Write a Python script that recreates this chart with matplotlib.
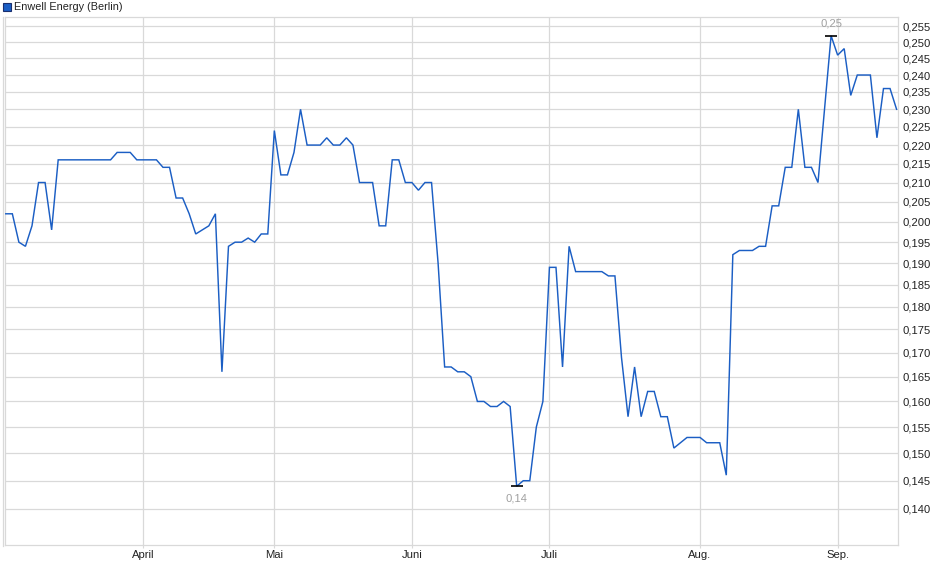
import numpy as np
import pandas as pd
import matplotlib
matplotlib.use("Agg")
import matplotlib.pyplot as plt
from matplotlib.patches import Rectangle
from matplotlib.lines import Line2D
from matplotlib.ticker import FixedLocator, FuncFormatter, NullLocator

plt.rcParams['font.family'] = ['Liberation Sans', 'DejaVu Sans']

# ---------------- data ----------------
title = "Enwell Energy (Berlin)"
start_date = "2025-03-03"
end_date = "2025-09-12"
holidays = ["2025-04-18", "2025-04-21", "2025-05-01"]

prices = [
    0.202, 0.202, 0.195, 0.194, 0.199, 0.210, 0.210, 0.198, 0.216, 0.216,
    0.216, 0.216, 0.216, 0.216, 0.216, 0.216, 0.216, 0.218, 0.218, 0.218,
    0.216, 0.216, 0.216, 0.216, 0.214, 0.214, 0.206, 0.206, 0.202, 0.197,
    0.198, 0.199, 0.202, 0.166, 0.194, 0.195, 0.195, 0.196, 0.195, 0.197,
    0.197, 0.224, 0.212, 0.212, 0.218, 0.230, 0.220, 0.220, 0.220, 0.222,
    0.220, 0.220, 0.222, 0.220, 0.210, 0.210, 0.210, 0.199, 0.199, 0.216,
    0.216, 0.210, 0.210, 0.208, 0.210, 0.210, 0.190, 0.167, 0.167, 0.166,
    0.166, 0.165, 0.160, 0.160, 0.159, 0.159, 0.160, 0.159, 0.144, 0.145,
    0.145, 0.155, 0.160, 0.189, 0.189, 0.167, 0.194, 0.188, 0.188, 0.188,
    0.188, 0.188, 0.187, 0.187, 0.169, 0.157, 0.167, 0.157, 0.162, 0.162,
    0.157, 0.157, 0.151, 0.152, 0.153, 0.153, 0.153, 0.152, 0.152, 0.152,
    0.146, 0.192, 0.193, 0.193, 0.193, 0.194, 0.194, 0.204, 0.204, 0.214,
    0.214, 0.230, 0.214, 0.214, 0.210, 0.230, 0.252, 0.246, 0.248, 0.234,
    0.240, 0.240, 0.240, 0.222, 0.236, 0.236, 0.230,
]

month_labels = ["April", "Mai", "Juni", "Juli", "Aug.", "Sep."]
y_ticks = [0.140, 0.145, 0.150, 0.155, 0.160, 0.165, 0.170, 0.175, 0.180,
           0.185, 0.190, 0.195, 0.200, 0.205, 0.210, 0.215, 0.220, 0.225,
           0.230, 0.235, 0.240, 0.245, 0.250, 0.255]

# ---------------- build ----------------
dates = pd.bdate_range(start_date, end_date)
dates = dates[~dates.isin(pd.to_datetime(holidays))]
n = min(len(dates), len(prices))
dates = dates[:n]
y = np.array(prices[:n])
x = np.arange(n)

months = dates.month
month_starts = [i for i in range(1, n) if months[i] != months[i - 1]]

W, H = 940, 579
fig = plt.figure(figsize=(W / 100, H / 100), dpi=100)
fig.patch.set_facecolor("white")

left_px, right_px, top_px, bot_px = 5, 898.3, 16.7, 545.3
ax = fig.add_axes([left_px / W, 1 - bot_px / H,
                   (right_px - left_px) / W, (bot_px - top_px) / H])

grid_c = "#d9d9d9"
line_c = "#1B5EC4"

ax.set_yscale("log")
ax.set_ylim(0.13382, 0.25803)
ax.set_xlim(-0.12, (right_px - left_px) / 6.55 - 0.12)

ax.yaxis.set_major_locator(FixedLocator(y_ticks))
ax.yaxis.set_minor_locator(NullLocator())
ax.yaxis.set_major_formatter(FuncFormatter(lambda v, p: f"{v:.3f}".replace(".", ",")))
ax.yaxis.tick_right()
ax.tick_params(axis="y", which="both", length=0, pad=3.2, labelsize=8.1, labelcolor="#222222")

ax.set_xticks(month_starts)
ax.set_xticklabels(month_labels[:len(month_starts)])
ax.tick_params(axis="x", length=2, width=0.8, color=grid_c, pad=1.5, labelsize=8.1, labelcolor="#222222")

ax.grid(True, which="major", color=grid_c, linewidth=0.9)
ax.set_axisbelow(True)
for s in ax.spines.values():
    s.set_color(grid_c)
    s.set_linewidth(0.9)

ax.plot(x, y, color=line_c, linewidth=1.05, solid_joinstyle="miter", zorder=3)

# min / max annotations
imin, imax = int(np.argmin(y)), int(np.argmax(y))
for idx, off in ((imin, -9), (imax, 9)):
    ax.plot([idx], [y[idx]], marker="_", markersize=9, markeredgewidth=1.2,
            color="black", zorder=4)
    ax.annotate(f"{y[idx]:.2f}".replace(".", ","), (idx, y[idx]),
                xytext=(0, off), textcoords="offset points",
                ha="center", va="center", fontsize=8.1, color="#a0a0a0", zorder=5)

# outer left border line
fig.add_artist(Line2D([2.7 / W, 2.7 / W], [1 - 16.7 / H, 1 - 546 / H],
                      transform=fig.transFigure, color=grid_c, linewidth=0.9))

# legend-like title
fig.add_artist(Rectangle((3 / W, 1 - 11 / H), 8 / W, 8 / H, transform=fig.transFigure,
                         facecolor=line_c, edgecolor="#1a2f6e", linewidth=0.8))
fig.text(14.5 / W, 1 - 7 / H, title, ha="left", va="center", fontsize=7.8, color="#222222")

fig.savefig("out.png", dpi=100, facecolor="white")
